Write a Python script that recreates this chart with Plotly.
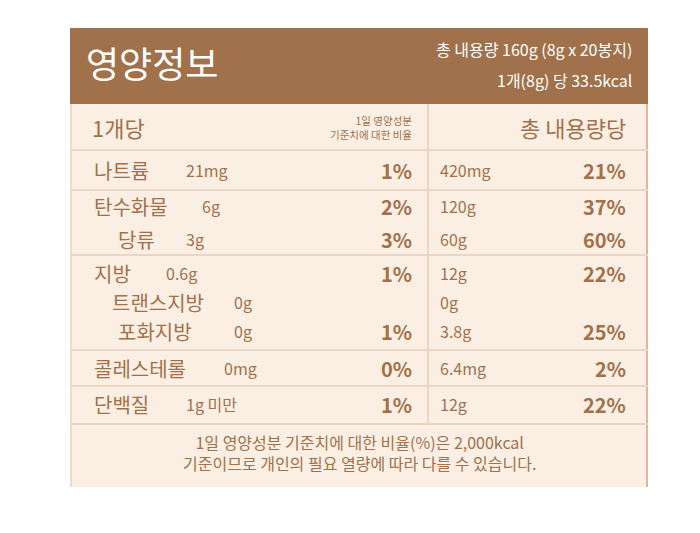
import plotly.graph_objects as go

# nutrition table values
names = ["나트륨", "탄수화물", "당류", "지방", "트랜스지방", "포화지방", "콜레스테롤", "단백질"]
amounts = ["21mg", "6g", "3g", "0.6g", "0g", "0g", "0mg", "1g 미만"]
daily_pct = ["1%", "2%", "3%", "1%", "", "1%", "0%", "1%"]
total_amounts = ["420mg", "120g", "60g", "12g", "0g", "3.8g", "6.4mg", "12g"]
total_pct = ["21%", "37%", "60%", "22%", "", "25%", "2%", "22%"]

title = "영양정보"
header_right = ["총 내용량 160g (8g x 20봉지)", "1개(8g) 당 33.5kcal"]
col_head = ["1개당", "1일 영양성분<br>기준치에 대한 비율", "총 내용량당"]
footer = "1일 영양성분 기준치에 대한 비율(%)은 2,000kcal<br>기준이므로 개인의 필요 열량에 따라 다를 수 있습니다."

# layout (pixel coordinates)
row_y = [170, 206, 239, 273, 302, 331, 368, 404]
name_x = [92, 92, 116, 92, 110, 116, 92, 92]
amt_x = [184, 200, 184, 164, 232, 232, 222, 184]
sep_y = [150, 190, 255, 350, 386, 424]

BROWN = "#A0714A"
BG = "#FBEFE4"
LINE = "#EBD6C5"
FONT = "Noto Sans CJK KR"

fig = go.Figure()
shapes = [
    dict(type="rect", x0=70, x1=648, y0=28, y1=487, fillcolor=BG, line_width=0, layer="below"),
    dict(type="rect", x0=70, x1=648, y0=28, y1=104, fillcolor=BROWN, line_width=0),
    dict(type="line", x0=428, x1=428, y0=104, y1=424, line=dict(color=LINE, width=2)),
    dict(type="line", x0=647, x1=647, y0=104, y1=487, line=dict(color="#D9B89C", width=2)),
    dict(type="line", x0=71, x1=71, y0=104, y1=487, line=dict(color="#EAD4C2", width=1.5)),
]
for y in sep_y:
    shapes.append(dict(type="line", x0=70, x1=648, y0=y, y1=y, line=dict(color=LINE, width=2)))

ann = []
def t(x, y, s, size, anchor="left", bold=False, color=BROWN):
    ann.append(dict(x=x, y=y, xref="x", yref="y", text=f"<b>{s}</b>" if bold else s,
                    showarrow=False, xanchor=anchor, yanchor="middle",
                    font=dict(family=FONT, size=size, color=color)))

t(84, 62, title, 36, color="white")
t(634, 49, header_right[0], 16, "right", color="white")
t(634, 80, header_right[1], 16, "right", color="white")
t(90, 127, col_head[0], 22)
ann.append(dict(x=414, y=127, xref="x", yref="y", text=col_head[1], showarrow=False,
                xanchor="right", align="right", font=dict(family=FONT, size=10.5, color=BROWN)))
t(628, 127, col_head[2], 22, "right")

for i in range(len(names)):
    y = row_y[i]
    t(name_x[i], y, names[i], 20)
    t(amt_x[i], y, amounts[i], 16)
    if daily_pct[i]:
        t(414, y, daily_pct[i], 20, "right", bold=True)
    t(438, y, total_amounts[i], 16)
    if total_pct[i]:
        t(628, y, total_pct[i], 20, "right", bold=True)

ann.append(dict(x=359, y=452, xref="x", yref="y", text=footer, showarrow=False,
                xanchor="center", align="center", font=dict(family=FONT, size=16, color=BROWN)))

# page body has an 8px margin, so shift the axis ranges to line up with pixels
fig.update_layout(
    width=700, height=533, margin=dict(l=0, r=0, t=0, b=0),
    paper_bgcolor="white", plot_bgcolor="white",
    xaxis=dict(range=[8, 708], visible=False, fixedrange=True),
    yaxis=dict(range=[541, 8], visible=False, fixedrange=True),
    shapes=shapes, annotations=ann, showlegend=False,
)
fig.write_html("out.html")
